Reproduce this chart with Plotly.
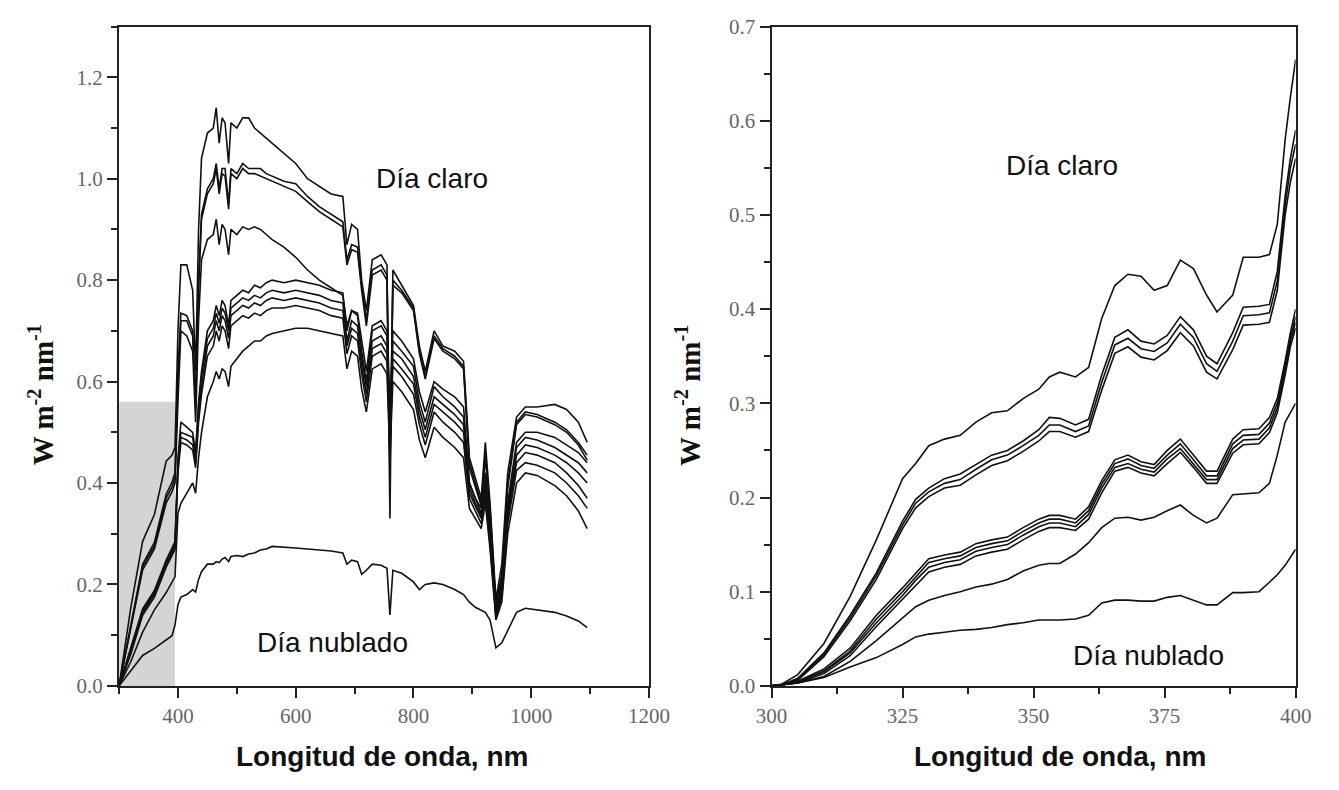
import plotly.graph_objects as go

# ---------------- Left panel data (300-1100 nm) ----------------
wl_left = [300, 320, 340, 360, 380, 390, 395, 400, 405, 415,
           425, 430, 435, 440, 450, 460, 465, 470, 475, 480,
           486, 490, 500, 510, 520, 530, 540, 550, 560, 580,
           600, 620, 640, 660, 680, 687, 695, 705, 712, 720,
           730, 745, 755, 760, 765, 780, 800, 810, 820, 835,
           850, 870, 885, 895, 905, 915, 922, 930, 940, 950,
           960, 975, 990, 1010, 1040, 1060, 1080, 1095]

clear_1 = [0.0, 0.155, 0.285, 0.338, 0.443, 0.455, 0.47, 0.70, 0.83, 0.83,
           0.78, 0.62, 0.90, 1.04, 1.09, 1.10, 1.14, 1.07, 1.12, 1.11,
           1.03, 1.11, 1.10, 1.12, 1.12, 1.10, 1.09, 1.08, 1.07, 1.05,
           1.03, 1.00, 0.985, 0.97, 0.965, 0.87, 0.91, 0.90, 0.80, 0.74,
           0.84, 0.85, 0.83, 0.33, 0.82, 0.79, 0.75, 0.67, 0.62, 0.70,
           0.67, 0.66, 0.64, 0.45, 0.41, 0.37, 0.48, 0.36, 0.17, 0.24,
           0.42, 0.53, 0.55, 0.55, 0.555, 0.545, 0.52, 0.48]
clear_2 = [0.0, 0.12, 0.24, 0.283, 0.378, 0.402, 0.42, 0.62, 0.735, 0.73,
           0.70, 0.56, 0.80, 0.93, 0.98, 1.00, 1.03, 0.98, 1.02, 1.02,
           0.95, 1.02, 1.01, 1.03, 1.02, 1.02, 1.02, 1.01, 1.005, 0.995,
           0.99, 0.965, 0.945, 0.93, 0.915, 0.84, 0.87, 0.865, 0.79, 0.72,
           0.82, 0.83, 0.81, 0.42, 0.80, 0.78, 0.745, 0.66, 0.61, 0.69,
           0.665, 0.65, 0.63, 0.44, 0.40, 0.36, 0.46, 0.35, 0.16, 0.22,
           0.40, 0.52, 0.54, 0.535, 0.52, 0.505, 0.48, 0.455]
clear_3 = [0.0, 0.117, 0.235, 0.276, 0.37, 0.393, 0.41, 0.60, 0.72, 0.72,
           0.69, 0.55, 0.78, 0.92, 0.97, 0.99, 1.02, 0.97, 1.01, 1.005,
           0.94, 1.01, 1.00, 1.02, 1.01, 1.01, 1.005, 1.0, 0.995, 0.985,
           0.975, 0.955, 0.935, 0.92, 0.905, 0.83, 0.86, 0.855, 0.78, 0.71,
           0.81, 0.82, 0.80, 0.45, 0.79, 0.775, 0.74, 0.655, 0.605, 0.685,
           0.66, 0.645, 0.625, 0.43, 0.39, 0.355, 0.45, 0.34, 0.15, 0.21,
           0.39, 0.515, 0.535, 0.53, 0.515, 0.50, 0.475, 0.445]
clear_4 = [0.0, 0.113, 0.229, 0.27, 0.361, 0.383, 0.40, 0.56, 0.70, 0.69,
           0.66, 0.52, 0.72, 0.84, 0.88, 0.89, 0.92, 0.87, 0.91, 0.90,
           0.85, 0.90, 0.89, 0.905, 0.90, 0.905, 0.90, 0.89, 0.88, 0.865,
           0.845, 0.82, 0.80, 0.785, 0.77, 0.71, 0.74, 0.735, 0.68, 0.62,
           0.71, 0.72, 0.70, 0.50, 0.70, 0.68, 0.645, 0.58, 0.54, 0.60,
           0.585, 0.57, 0.55, 0.40, 0.37, 0.35, 0.42, 0.32, 0.16, 0.20,
           0.36, 0.48, 0.50, 0.50, 0.49, 0.475, 0.46, 0.44]
clear_5 = [0.0, 0.075, 0.152, 0.188, 0.248, 0.272, 0.285, 0.45, 0.52, 0.51,
           0.50, 0.46, 0.56, 0.62, 0.70, 0.72, 0.75, 0.73, 0.76, 0.75,
           0.71, 0.76, 0.77, 0.78, 0.775, 0.79, 0.785, 0.795, 0.80, 0.795,
           0.80, 0.795, 0.79, 0.78, 0.775, 0.70, 0.74, 0.73, 0.66, 0.60,
           0.70, 0.71, 0.69, 0.55, 0.68, 0.66, 0.63, 0.56, 0.52, 0.59,
           0.57, 0.55, 0.53, 0.40, 0.37, 0.34, 0.41, 0.31, 0.15, 0.19,
           0.35, 0.47, 0.49, 0.485, 0.47, 0.455, 0.44, 0.42]
clear_6 = [0.0, 0.071, 0.148, 0.184, 0.243, 0.266, 0.279, 0.44, 0.50, 0.495,
           0.49, 0.45, 0.55, 0.61, 0.685, 0.705, 0.735, 0.715, 0.745, 0.735,
           0.70, 0.745, 0.755, 0.765, 0.76, 0.77, 0.765, 0.775, 0.78, 0.775,
           0.78, 0.775, 0.77, 0.76, 0.755, 0.68, 0.72, 0.71, 0.645, 0.59,
           0.68, 0.69, 0.67, 0.52, 0.66, 0.645, 0.61, 0.545, 0.505, 0.57,
           0.555, 0.535, 0.515, 0.39, 0.36, 0.335, 0.40, 0.30, 0.145, 0.185,
           0.34, 0.455, 0.475, 0.47, 0.455, 0.44, 0.42, 0.40]
clear_7 = [0.0, 0.067, 0.144, 0.18, 0.238, 0.261, 0.274, 0.43, 0.49, 0.485,
           0.475, 0.44, 0.53, 0.59, 0.67, 0.69, 0.72, 0.70, 0.73, 0.72,
           0.685, 0.73, 0.74, 0.75, 0.745, 0.755, 0.75, 0.76, 0.765, 0.76,
           0.765, 0.76, 0.755, 0.745, 0.74, 0.67, 0.705, 0.695, 0.63, 0.575,
           0.665, 0.675, 0.655, 0.50, 0.645, 0.625, 0.595, 0.53, 0.49, 0.555,
           0.54, 0.52, 0.50, 0.38, 0.355, 0.33, 0.39, 0.29, 0.14, 0.18,
           0.33, 0.44, 0.46, 0.455, 0.44, 0.42, 0.395, 0.37]
clear_8 = [0.0, 0.063, 0.139, 0.175, 0.234, 0.256, 0.269, 0.42, 0.48, 0.475,
           0.465, 0.43, 0.52, 0.575, 0.65, 0.67, 0.70, 0.68, 0.71, 0.70,
           0.665, 0.71, 0.72, 0.73, 0.725, 0.735, 0.73, 0.74, 0.745, 0.745,
           0.75, 0.745, 0.74, 0.73, 0.725, 0.655, 0.69, 0.68, 0.615, 0.56,
           0.65, 0.66, 0.64, 0.48, 0.63, 0.61, 0.575, 0.515, 0.475, 0.54,
           0.52, 0.50, 0.48, 0.37, 0.345, 0.32, 0.375, 0.28, 0.135, 0.175,
           0.32, 0.425, 0.44, 0.435, 0.42, 0.40, 0.375, 0.35]
clear_9 = [0.0, 0.048, 0.106, 0.15, 0.184, 0.204, 0.215, 0.34, 0.36, 0.38,
           0.40, 0.38, 0.45, 0.50, 0.57, 0.60, 0.62, 0.605, 0.625, 0.62,
           0.59, 0.63, 0.645, 0.66, 0.67, 0.68, 0.68, 0.69, 0.695, 0.70,
           0.705, 0.705, 0.70, 0.695, 0.69, 0.625, 0.66, 0.65, 0.585, 0.54,
           0.625, 0.635, 0.615, 0.45, 0.60, 0.58, 0.545, 0.485, 0.45, 0.51,
           0.49, 0.47, 0.45, 0.35, 0.33, 0.31, 0.36, 0.27, 0.13, 0.165,
           0.30, 0.40, 0.42, 0.415, 0.395, 0.375, 0.345, 0.31]
cloudy_left = [0.0, 0.03, 0.06, 0.074, 0.091, 0.099, 0.12, 0.16, 0.175, 0.18,
               0.19, 0.185, 0.21, 0.225, 0.24, 0.24, 0.245, 0.243, 0.25, 0.253,
               0.245, 0.255, 0.257, 0.255, 0.26, 0.262, 0.268, 0.27, 0.275, 0.274,
               0.272, 0.27, 0.268, 0.266, 0.262, 0.24, 0.248, 0.245, 0.22, 0.228,
               0.24, 0.238, 0.232, 0.14, 0.228, 0.222, 0.205, 0.19, 0.20, 0.203,
               0.20, 0.19, 0.18, 0.165, 0.155, 0.15, 0.145, 0.13, 0.075, 0.085,
               0.11, 0.145, 0.153, 0.15, 0.145, 0.138, 0.128, 0.115]

left_series = [clear_1, clear_2, clear_3, clear_4, clear_5, clear_6,
               clear_7, clear_8, clear_9, cloudy_left]

# ---------------- Right panel data (300-400 nm) ----------------
wl_right = [300, 302, 305, 310, 315, 320, 325, 327.5, 330, 333,
            336, 339, 342, 345, 348, 351, 353, 355, 358, 360.5,
            363, 365.5, 368, 370.5, 373, 375.5, 378, 380.5, 383, 385,
            388, 390, 393, 395, 396.5, 398, 399, 400]

uv_top = [0.0, 0.002, 0.012, 0.045, 0.095, 0.155, 0.22, 0.236, 0.255, 0.262,
          0.266, 0.28, 0.29, 0.292, 0.305, 0.315, 0.328, 0.333, 0.328, 0.338,
          0.39, 0.425, 0.437, 0.435, 0.42, 0.425, 0.452, 0.443, 0.415, 0.397,
          0.415, 0.455, 0.455, 0.458, 0.49, 0.58, 0.625, 0.665]
uv_a1 = [0.0, 0.001, 0.008, 0.035, 0.075, 0.12, 0.175, 0.198, 0.21, 0.22,
         0.225, 0.235, 0.245, 0.25, 0.26, 0.272, 0.285, 0.284, 0.277, 0.283,
         0.33, 0.37, 0.378, 0.366, 0.363, 0.372, 0.392, 0.378, 0.35, 0.342,
         0.375, 0.402, 0.403, 0.405, 0.44, 0.52, 0.56, 0.59]
uv_a2 = [0.0, 0.001, 0.007, 0.033, 0.072, 0.117, 0.171, 0.194, 0.206, 0.215,
         0.219, 0.23, 0.24, 0.245, 0.255, 0.266, 0.277, 0.277, 0.27, 0.276,
         0.322, 0.362, 0.369, 0.358, 0.355, 0.364, 0.384, 0.37, 0.342, 0.334,
         0.366, 0.393, 0.394, 0.396, 0.43, 0.51, 0.55, 0.575]
uv_a3 = [0.0, 0.001, 0.006, 0.031, 0.069, 0.113, 0.167, 0.189, 0.201, 0.21,
         0.213, 0.224, 0.234, 0.239, 0.249, 0.26, 0.27, 0.27, 0.264, 0.27,
         0.314, 0.353, 0.36, 0.349, 0.346, 0.356, 0.375, 0.361, 0.333, 0.326,
         0.357, 0.383, 0.384, 0.386, 0.42, 0.50, 0.535, 0.56]
uv_b1 = [0.0, 0.001, 0.005, 0.018, 0.04, 0.075, 0.104, 0.12, 0.135, 0.139,
         0.142, 0.151, 0.155, 0.158, 0.168, 0.177, 0.181, 0.181, 0.177, 0.19,
         0.218, 0.24, 0.245, 0.238, 0.235, 0.25, 0.262, 0.245, 0.228, 0.228,
         0.262, 0.272, 0.273, 0.285, 0.305, 0.345, 0.375, 0.40]
uv_b2 = [0.0, 0.001, 0.004, 0.016, 0.037, 0.071, 0.10, 0.116, 0.131, 0.135,
         0.138, 0.147, 0.151, 0.154, 0.164, 0.173, 0.177, 0.177, 0.173, 0.186,
         0.214, 0.236, 0.241, 0.234, 0.231, 0.245, 0.257, 0.24, 0.223, 0.223,
         0.257, 0.266, 0.267, 0.279, 0.30, 0.34, 0.37, 0.392]
uv_b3 = [0.0, 0.001, 0.004, 0.015, 0.035, 0.067, 0.096, 0.112, 0.126, 0.131,
         0.134, 0.143, 0.147, 0.15, 0.16, 0.169, 0.173, 0.173, 0.169, 0.182,
         0.21, 0.232, 0.236, 0.23, 0.227, 0.241, 0.252, 0.236, 0.219, 0.219,
         0.252, 0.261, 0.262, 0.274, 0.295, 0.335, 0.365, 0.386]
uv_b4 = [0.0, 0.001, 0.003, 0.013, 0.032, 0.063, 0.092, 0.107, 0.121, 0.126,
         0.129, 0.138, 0.142, 0.145, 0.155, 0.164, 0.168, 0.168, 0.165, 0.177,
         0.205, 0.228, 0.232, 0.226, 0.223, 0.236, 0.248, 0.232, 0.215, 0.215,
         0.247, 0.256, 0.257, 0.269, 0.29, 0.33, 0.36, 0.38]
uv_low = [0.0, 0.001, 0.003, 0.01, 0.026, 0.048, 0.072, 0.084, 0.091, 0.096,
          0.10, 0.105, 0.108, 0.113, 0.122, 0.128, 0.13, 0.13, 0.14, 0.152,
          0.168, 0.178, 0.179, 0.176, 0.179, 0.186, 0.192, 0.181, 0.173, 0.178,
          0.203, 0.204, 0.205, 0.215, 0.245, 0.28, 0.29, 0.30]
uv_cloudy = [0.0, 0.001, 0.003, 0.009, 0.02, 0.03, 0.044, 0.052, 0.055, 0.057,
             0.059, 0.06, 0.062, 0.065, 0.067, 0.07, 0.07, 0.07, 0.071, 0.075,
             0.088, 0.091, 0.091, 0.09, 0.09, 0.094, 0.096, 0.091, 0.086, 0.086,
             0.099, 0.099, 0.10, 0.11, 0.118, 0.128, 0.137, 0.145]

right_series = [uv_top, uv_a1, uv_a2, uv_a3, uv_b1, uv_b2, uv_b3, uv_b4,
                uv_low, uv_cloudy]

# shaded UV band in left panel
uv_band_x = [300, 395]
uv_band_y = [0.0, 0.56]

# ---------------- Figure ----------------
W, H = 1339, 790
fig = go.Figure()
line_style = dict(color="#111111", width=1.6)
for s in left_series:
    fig.add_trace(go.Scatter(x=wl_left, y=s, mode="lines", line=line_style,
                             xaxis="x", yaxis="y", showlegend=False,
                             hoverinfo="skip"))
for s in right_series:
    fig.add_trace(go.Scatter(x=wl_right, y=s, mode="lines", line=line_style,
                             xaxis="x2", yaxis="y2", showlegend=False,
                             hoverinfo="skip"))

fig.add_shape(type="rect", xref="x", yref="y",
              x0=uv_band_x[0], x1=uv_band_x[1], y0=uv_band_y[0], y1=uv_band_y[1],
              fillcolor="#d4d4d4", line=dict(width=0), layer="below")

tick_font = dict(family="Liberation Serif", size=21, color="#666666")
axis_common = dict(showline=True, linecolor="#222222", linewidth=2, mirror=True,
                   ticks="outside", tickcolor="#222222", tickwidth=2, ticklen=10,
                   showgrid=False, zeroline=False, tickfont=tick_font)

top_px, bottom_px = 15, 695
y0_frac = 1 - bottom_px / H
y1_frac = 1 - top_px / H
L0, L1 = 106, 651
R0, R1 = 777, 1316

fig.update_layout(
    width=W, height=H,
    margin=dict(l=0, r=0, t=0, b=0),
    paper_bgcolor="white", plot_bgcolor="white",
    xaxis=dict(domain=[L0 / W, L1 / W], range=[300, 1200],
               tick0=0, dtick=200,
               minor=dict(ticks="outside", dtick=100, ticklen=6,
                          tickcolor="#222222", tickwidth=2),
               **axis_common),
    yaxis=dict(domain=[y0_frac, y1_frac], range=[0, 1.3], anchor="x",
               tick0=0, dtick=0.2, tickformat=".1f",
               minor=dict(ticks="outside", dtick=0.1, ticklen=6,
                          tickcolor="#222222", tickwidth=2),
               **axis_common),
    xaxis2=dict(domain=[R0 / W, R1 / W], range=[300, 400], anchor="y2",
                tick0=300, dtick=25,
                minor=dict(ticks="outside", dtick=12.5, ticklen=6,
                           tickcolor="#222222", tickwidth=2),
                **axis_common),
    yaxis2=dict(domain=[y0_frac, y1_frac], range=[0, 0.7], anchor="x2",
                tick0=0, dtick=0.1, tickformat=".1f",
                minor=dict(ticks="outside", dtick=0.05, ticklen=6,
                           tickcolor="#222222", tickwidth=2),
                **axis_common),
)

label_font = dict(family="Liberation Sans", size=28, color="#111111")
title_font = dict(family="Liberation Sans", size=28, color="#111111")
ytitle_font = dict(family="Liberation Serif", size=29, color="#111111")

title_y = 1 - 768 / H
ytitle_y = 1 - 395 / H

annotations = [
    dict(text="Día claro", x=832, y=1.0, xref="x", yref="y",
         xanchor="center", yanchor="middle", showarrow=False, font=label_font),
    dict(text="Día nublado", x=662, y=0.086, xref="x", yref="y",
         xanchor="center", yanchor="middle", showarrow=False, font=label_font),
    dict(text="Día claro", x=355.5, y=0.552, xref="x2", yref="y2",
         xanchor="center", yanchor="middle", showarrow=False, font=label_font),
    dict(text="Día nublado", x=372, y=0.032, xref="x2", yref="y2",
         xanchor="center", yanchor="middle", showarrow=False, font=label_font),
    dict(text="<b>Longitud de onda, nm</b>", x=746, y=title_y,
         xref="x", yref="paper", xanchor="center", yanchor="middle",
         showarrow=False, font=title_font),
    dict(text="<b>Longitud de onda, nm</b>", x=355, y=title_y,
         xref="x2", yref="paper", xanchor="center", yanchor="middle",
         showarrow=False, font=title_font),
    dict(text="<b>W m<sup>-2</sup> nm<sup>-1</sup></b>", x=(L0 - 80) / W, y=ytitle_y,
         xref="paper", yref="paper", xanchor="center", yanchor="middle",
         showarrow=False, textangle=-90, font=ytitle_font),
    dict(text="<b>W m<sup>-2</sup> nm<sup>-1</sup></b>", x=(R0 - 86) / W, y=ytitle_y,
         xref="paper", yref="paper", xanchor="center", yanchor="middle",
         showarrow=False, textangle=-90, font=ytitle_font),
]
fig.update_layout(annotations=annotations)

fig.write_html("out.html")
